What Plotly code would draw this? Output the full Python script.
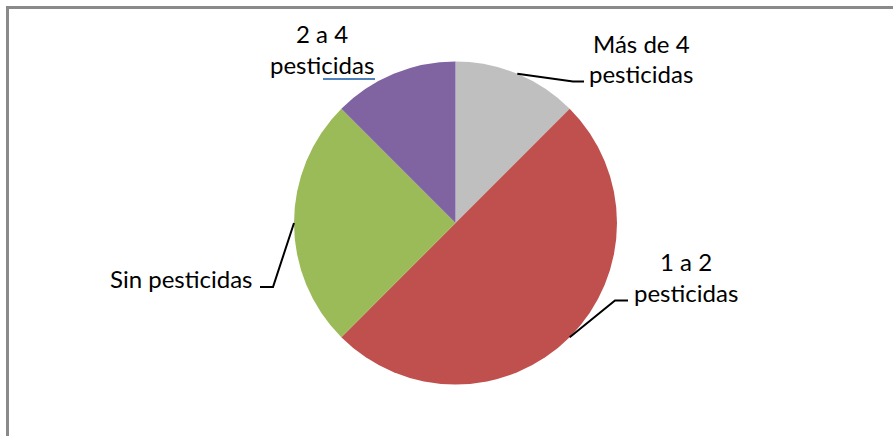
import math
import plotly.graph_objects as go

# ---- data ----
categories = ["Más de 4 pesticidas", "1 a 2 pesticidas", "Sin pesticidas", "2 a 4 pesticidas"]
label_lines = [["Más de 4", "pesticidas"], ["1 a 2", "pesticidas"], ["Sin pesticidas"], ["2 a 4", "pesticidas"]]
values = [12.5, 50, 25, 12.5]
colors = ["#BFBFBF", "#C0504D", "#9BBB59", "#8064A2"]

W, H = 893, 436
CX, CY, R = 455.5, 223, 161.5

fig = go.Figure(go.Pie(
    labels=categories, values=values, sort=False, direction="clockwise", rotation=0,
    marker=dict(colors=colors, line=dict(width=0)), textinfo="none", hoverinfo="label+percent",
    domain=dict(x=[(CX - R) / W, (CX + R) / W], y=[1 - (CY + R) / H, 1 - (CY - R) / H]),
    showlegend=False,
))

# label layout (pixel positions of text lines) and leader elbows
label_pos = [
    dict(x=641, ys=[43, 73], leader=[(573, 81.5), (584, 81.5)]),
    dict(x=686, ys=[261, 292], leader=[(615, 300.5), (628, 300.5)]),
    dict(x=181, ys=[278], leader=[(273, 287), (260, 287)]),
    dict(x=322, ys=[34, 64], leader=None),
]

def px(x):
    return x / W

def py(y):
    return 1 - y / H

annotations = []
shapes = []
total = sum(values)
cum = 0.0
for i, v in enumerate(values):
    mid = (cum + v / 2) / total * 2 * math.pi
    cum += v
    lp = label_pos[i]
    for line, y in zip(label_lines[i], lp["ys"]):
        annotations.append(dict(x=px(lp["x"]), y=py(y), xref="paper", yref="paper", text=line,
                                showarrow=False, xanchor="center", yanchor="middle",
                                font=dict(family="Lato, 'Open Sans', sans-serif", size=24, color="#000")))
    if lp["leader"]:
        sx, sy = CX + R * math.sin(mid), CY - R * math.cos(mid)
        pts = [(sx, sy)] + lp["leader"]
        path = "M " + " L ".join(f"{px(a)},{py(b)}" for a, b in pts)
        shapes.append(dict(type="path", path=path, xref="paper", yref="paper",
                           line=dict(color="#000", width=2)))

# blue underline under the purple label (as in reference)
shapes.append(dict(type="line", xref="paper", yref="paper", x0=px(323), x1=px(375), y0=py(79), y1=py(79),
                   line=dict(color="#4F81BD", width=2)))
# chart frame (top and left edges visible)
shapes.append(dict(type="line", xref="paper", yref="paper", x0=px(6), x1=1, y0=py(7.5), y1=py(7.5),
                   line=dict(color="#8A8A8A", width=3)))
shapes.append(dict(type="line", xref="paper", yref="paper", x0=px(7.5), x1=px(7.5), y0=py(6), y1=0,
                   line=dict(color="#8A8A8A", width=3)))

fig.update_layout(width=W, height=H, autosize=False, margin=dict(l=0, r=0, t=0, b=0),
                  paper_bgcolor="white", plot_bgcolor="white",
                  annotations=annotations, shapes=shapes)
fig.write_html("out.html", config={"displayModeBar": False},
               post_script="document.body.style.margin='0';")
